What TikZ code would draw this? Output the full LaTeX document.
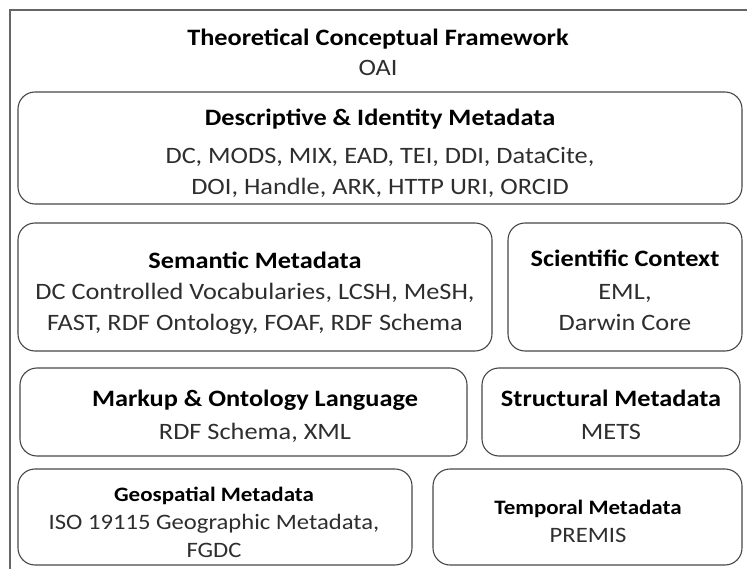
\documentclass[tikz,border=0pt]{standalone}
\usepackage{fontspec}
\setmainfont{Carlito}[FakeStretch=1.12]
\begin{document}
\begin{tikzpicture}[x=1pt,y=-1pt,
  frame/.style={draw=black!60, line width=1.4pt},
  card/.style={draw=black!72, line width=1.1pt, rounded corners=17pt,
    inner sep=0pt},
  words/.style={align=center, text=black!82, inner sep=0pt},
  big/.style={font=\fontsize{23.5}{31}\selectfont},
  small/.style={font=\fontsize{22}{28}\selectfont}]
\newcommand{\hd}[1]{\textcolor{black}{\bfseries #1}}
\newcommand{\shd}[1]{\textcolor{black}{\fontsize{20.5}{28}\selectfont\bfseries #1}}
\useasboundingbox (0,0) rectangle (747,569);
\draw[frame] (10,569) -- (10,10) -- (747,10);

% heading of the framework
\node[words, big, font=\fontsize{23.5}{30}\selectfont] (fw) at (378,52)
  {\hd{Theoretical Conceptual Framework}\\OAI};

% layered boxes
\node[card, minimum width=724pt, minimum height=112pt] (desc) at (380,148) {};
\node[card, minimum width=474pt, minimum height=128pt] (sem) at (255,287) {};
\node[card, minimum width=234pt, minimum height=128pt] (sci) at (625,287) {};
\node[card, minimum width=447pt, minimum height=88pt] (mark) at (243.5,412) {};
\node[card, minimum width=258pt, minimum height=88pt] (struct) at (611,412) {};
\node[card, minimum width=394pt, minimum height=96pt] (geo) at (215,517) {};
\node[card, minimum width=309pt, minimum height=96pt] (temp) at (587.5,517) {};

% box contents
\node[words, big] (desc-t) at (380,153)
  {\hd{Descriptive \& Identity Metadata}\\[7pt]
   DC, MODS, MIX, EAD, TEI, DDI, DataCite,\\
   DOI, Handle, ARK, HTTP URI, ORCID};
\node[words, big] (sem-t) at (255,293)
  {\hd{Semantic Metadata}\\
   DC Controlled Vocabularies, LCSH, MeSH,\\
   FAST, RDF Ontology, FOAF, RDF Schema};
\node[words, big] (sci-t) at (625,290.5)
  {\hd{Scientific Context}\\[2pt]
   EML,\\
   Darwin Core};
\node[words, big] (mark-t) at (255,416.5)
  {\hd{Markup \& Ontology Language}\\[2pt]
   RDF Schema, XML};
\node[words, big] (struct-t) at (611,415)
  {\hd{Structural Metadata}\\[2pt]
   METS};
\node[words, small] (geo-t) at (214,522)
  {\shd{Geospatial Metadata}\\
   ISO 19115 Geographic Metadata,\\
   FGDC};
\node[words, small] (temp-t) at (588,521)
  {\shd{Temporal Metadata}\\
   PREMIS};
\end{tikzpicture}
\end{document}
